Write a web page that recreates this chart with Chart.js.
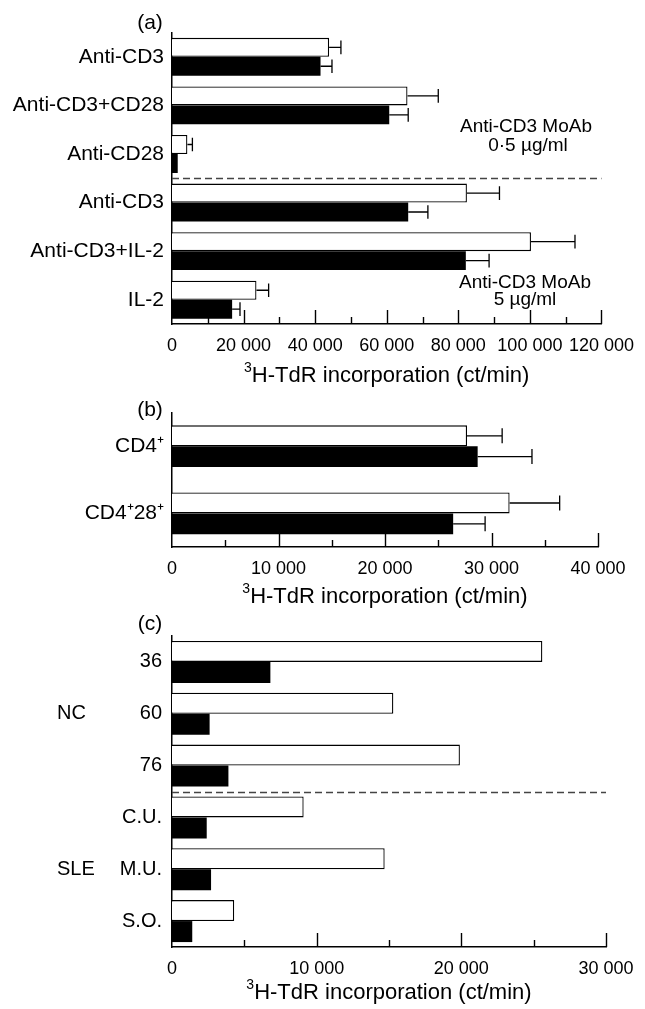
<!DOCTYPE html>
<html><head><meta charset="utf-8">
<script src="https://cdn.jsdelivr.net/npm/chart.js@4.4.1/dist/chart.umd.min.js"></script>
<style>
html,body{margin:0;padding:0;background:#fff;}
#wrap{position:relative;width:645px;height:1009px;overflow:hidden;background:#fff;}
canvas{position:absolute;left:0;}
</style></head><body>
<div id="wrap">
<canvas id="ca" width="645" height="392" style="top:0px"></canvas>
<canvas id="cb" width="645" height="220" style="top:392px"></canvas>
<canvas id="cc" width="645" height="397" style="top:612px"></canvas>
</div>
<script>
// ---------- DATA ----------
// Panel (a)
const catsA = ['Anti-CD3', 'Anti-CD3+CD28', 'Anti-CD28', 'Anti-CD3', 'Anti-CD3+IL-2', 'IL-2'];
const openA = [43900, 65800, 4300, 82400, 100300, 23600];
const openErrA = [3300, 8600, 1400, 9100, 12300, 3400];
const solidA = [41500, 60700, 1600, 66000, 82100, 16800];
const solidErrA = [3200, 5300, 0, 5500, 6500, 2200];
const axisA = { min: 0, max: 120000, step: 10000, labelEvery: 20000 };
const notesA = [['Anti-CD3 MoAb', '0·5 µg/ml'], ['Anti-CD3 MoAb', '5 µg/ml']];

// Panel (b)
const catsB = ['CD4⁺', 'CD4⁺28⁺'];
const openB = [27700, 31700];
const openErrB = [3300, 4700];
const solidB = [28700, 26400];
const solidErrB = [5100, 3000];
const axisB = { min: 0, max: 40000, step: 5000, labelEvery: 10000 };

// Panel (c)
const catsC = ['36', '60', '76', 'C.U.', 'M.U.', 'S.O.'];
const groupsC = ['NC', 'SLE'];
const groupRowsC = [1, 4];
const openC = [25600, 15300, 19900, 9100, 14700, 4300];
const solidC = [6800, 2600, 3900, 2400, 2700, 1400];
const axisC = { min: 0, max: 30000, step: 5000, labelEvery: 10000 };

const xTitle = 'H-TdR incorporation (ct/min)';
const xTitleSup = '3';

// ---------- RENDERING ----------
const FONT = '"Liberation Sans", Arial, Helvetica, sans-serif';
Chart.defaults.font.family = FONT;
Chart.defaults.color = '#000';

function fmt(v) {
  return String(v).replace(/\B(?=(\d{3})+(?!\d))/g, ' ');
}

function makePanel(canvas, cfg) {
  const H = canvas.height;
  const deco = {
    id: 'deco_' + canvas.id,
    afterDatasetsDraw(chart) {
      const ctx = chart.ctx;
      const xs = chart.scales.x;
      ctx.save();
      ctx.strokeStyle = '#000';
      ctx.lineWidth = 1.3;
      chart.data.datasets.forEach((ds, di) => {
        if (!ds.errors) return;
        const meta = chart.getDatasetMeta(di);
        meta.data.forEach((el, i) => {
          const e = ds.errors[i];
          if (!e) return;
          const x0 = el.x;
          const x1 = xs.getPixelForValue(ds.data[i] + e);
          const half = el.height * 0.36;
          ctx.beginPath();
          ctx.moveTo(x0, el.y); ctx.lineTo(x1, el.y);
          ctx.moveTo(x1, el.y - half); ctx.lineTo(x1, el.y + half);
          ctx.stroke();
        });
      });
      ctx.restore();
    },
    afterDraw(chart) {
      const ctx = chart.ctx;
      const xs = chart.scales.x, ys = chart.scales.y;
      const ca = chart.chartArea;
      ctx.save();
      // inward tick marks
      ctx.strokeStyle = '#000';
      ctx.lineWidth = 1.4;
      xs.ticks.forEach(t => {
        if (t.value === cfg.axis.min) return;
        const px = Math.round(xs.getPixelForValue(t.value)) + 0.5;
        const major = t.value % cfg.axis.labelEvery === 0;
        const len = major ? 14 : 7;
        ctx.beginPath();
        ctx.moveTo(px, ca.bottom);
        ctx.lineTo(px, ca.bottom - len);
        ctx.stroke();
      });
      // dashed separator
      if (cfg.dashAfter != null) {
        const y = Math.round((ys.getPixelForValue(cfg.dashAfter) + ys.getPixelForValue(cfg.dashAfter + 1)) / 2) + 0.5;
        ctx.setLineDash([7, 4]);
        ctx.strokeStyle = '#444';
        ctx.lineWidth = 1.5;
        ctx.beginPath();
        ctx.moveTo(ca.left, y);
        ctx.lineTo(ca.right, y);
        ctx.stroke();
        ctx.setLineDash([]);
      }
      ctx.fillStyle = '#000';
      ctx.textBaseline = 'middle';
      // panel letter
      ctx.font = '21px ' + FONT;
      ctx.textAlign = 'center';
      ctx.fillText(cfg.letter, 150, cfg.letterY);
      // axis title with superscript
      const cx = (ca.left + ca.right) / 2;
      ctx.font = '22px ' + FONT;
      const mw = ctx.measureText(xTitle).width;
      ctx.font = '14px ' + FONT;
      const sw = ctx.measureText(xTitleSup).width;
      const start = cx - (mw + sw) / 2;
      ctx.textAlign = 'left';
      ctx.fillText(xTitleSup, start, cfg.titleY - 8);
      ctx.font = '22px ' + FONT;
      ctx.fillText(xTitle, start + sw, cfg.titleY);
      // notes
      if (cfg.notes) {
        ctx.font = '19px ' + FONT;
        ctx.textAlign = 'center';
        cfg.notes.forEach(n => ctx.fillText(n.text, n.x, n.y));
      }
      // group labels
      if (cfg.groups) {
        ctx.font = '20px ' + FONT;
        ctx.textAlign = 'left';
        cfg.groups.forEach((g, i) => {
          ctx.fillText(g, 57, ys.getPixelForValue(cfg.groupRows[i]));
        });
      }
      ctx.restore();
    }
  };

  return new Chart(canvas, {
    type: 'bar',
    data: {
      labels: cfg.cats,
      datasets: [
        { data: cfg.open, errors: cfg.openErr, backgroundColor: '#fff', borderColor: '#000',
          borderWidth: 1.3, borderSkipped: 'start', categoryPercentage: cfg.cp, barPercentage: 1 },
        { data: cfg.solid, errors: cfg.solidErr, backgroundColor: '#000', borderWidth: 0,
          categoryPercentage: cfg.cp, barPercentage: 1 }
      ]
    },
    options: {
      indexAxis: 'y',
      responsive: false,
      animation: false,
      devicePixelRatio: 1,
      layout: { padding: { left: 0, right: cfg.right, top: cfg.top, bottom: 0 } },
      plugins: { legend: { display: false }, tooltip: { enabled: false } },
      scales: {
        x: {
          type: 'linear', min: cfg.axis.min, max: cfg.axis.max,
          grid: { display: false, drawTicks: false },
          border: { display: true, color: '#000', width: 1.5 },
          ticks: {
            stepSize: cfg.axis.step, autoSkip: false, maxRotation: 0, minRotation: 0,
            padding: 11, font: { size: 18 }, color: '#000',
            callback: v => (v % cfg.axis.labelEvery === 0 ? fmt(v) : '')
          },
          afterFit: s => { s.height = H - cfg.bottom; }
        },
        y: {
          grid: { display: false, drawTicks: false },
          border: { display: true, color: '#000', width: 1.5 },
          ticks: { padding: cfg.labelPad, font: { size: cfg.labelSize }, color: '#000', autoSkip: false },
          afterFit: s => { s.width = 172; }
        }
      }
    },
    plugins: [deco]
  });
}

makePanel(document.getElementById('ca'), {
  cats: catsA, open: openA, openErr: openErrA, solid: solidA, solidErr: solidErrA,
  axis: axisA, cp: 0.78, top: 32.5, bottom: 324, right: 40,
  labelPad: 8, labelSize: 21, letter: '(a)', letterY: 23, titleY: 376, dashAfter: 2,
  notes: [
    { text: notesA[0][0], x: 526, y: 127 }, { text: notesA[0][1], x: 528, y: 146 },
    { text: notesA[1][0], x: 525, y: 283 }, { text: notesA[1][1], x: 525, y: 300 }
  ]
});

makePanel(document.getElementById('cb'), {
  cats: catsB, open: openB, openErr: openErrB, solid: solidB, solidErr: solidErrB,
  axis: axisB, cp: 0.62, top: 16.5, bottom: 155, right: 47,
  labelPad: 8, labelSize: 21, letter: '(b)', letterY: 18, titleY: 205, dashAfter: null
});

makePanel(document.getElementById('cc'), {
  cats: catsC, open: openC, openErr: null, solid: solidC, solidErr: null,
  axis: axisC, cp: 0.81, top: 24, bottom: 335, right: 39,
  labelPad: 10, labelSize: 20, letter: '(c)', letterY: 12, titleY: 381, dashAfter: 2,
  groups: groupsC, groupRows: groupRowsC
});
</script>
</body></html>
